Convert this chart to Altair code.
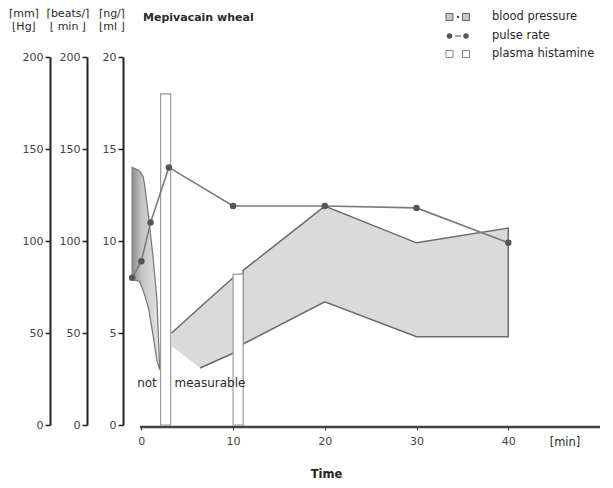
import altair as alt
import pandas as pd

# ---------------- data ----------------
# pulse rate (beats/min)
pulse_time = [-1, 0, 1, 3, 10, 20, 30, 40]
pulse_rate = [80, 89, 110, 140, 119, 119, 118, 99]

# blood pressure band (mm Hg), first part (before wheal measurement gap)
bpA_time = [-1.0, -0.2, 0.2, 0.4, 0.8, 1.3, 1.7, 2.0]
bpA_upper = [140, 138, 135, 129, 113, 90, 68, 31]
bpA_lower = [79, 78, 73, 70, 63, 48, 35, 30]

# blood pressure band, second part (between histamine samples)
bpB_time = [3.3, 6.4, 10.0]
bpB_upper = [50, 64, 80]
bpB_lower = [43, 31, 39]

# blood pressure band, third part
bpC_time = [11.1, 20, 30, 40]
bpC_upper = [84, 119, 99, 107]
bpC_lower = [44, 67, 48, 48]

# plasma histamine (ng/ml)
hist_start = [2.1, 10.0]
hist_end = [3.2, 11.1]
hist_value = [18.0, 8.2]

# axis tick labels
ticks_mmhg = [0, 50, 100, 150, 200]
ticks_beats = [0, 50, 100, 150, 200]
ticks_ng = [0, 5, 10, 15, 20]
ticks_time = [0, 10, 20, 30, 40]

# ---------------- tables ----------------
pulse_df = pd.DataFrame({"t": pulse_time, "rate": pulse_rate})
bpA_df = pd.DataFrame({"t": bpA_time, "upper": bpA_upper, "lower": bpA_lower})
bpB_df = pd.DataFrame({"t": bpB_time, "upper": bpB_upper, "lower": bpB_lower})
bpC_df = pd.DataFrame({"t": bpC_time, "upper": bpC_upper, "lower": bpC_lower})
hist_df = pd.DataFrame({"start": hist_start, "end": hist_end, "value": hist_value})
edgeB_df = pd.concat([
    pd.DataFrame({"t": bpB_time, "v": bpB_upper, "edge": "upper"}),
    pd.DataFrame({"t": bpB_time[1:], "v": bpB_lower[1:], "edge": "lower"}),
])
one = pd.DataFrame({"k": [0]})

FONT = "DejaVu Sans"
TXT = "#2a2a2a"

xscale = alt.Scale(domain=[-2, 50], nice=False, zero=False)
xaxis = alt.Axis(values=ticks_time, domain=False, ticks=True, tickSize=3,
                 tickColor="#444", tickWidth=1.2, labelFontSize=11, labelColor="#444",
                 labelFont=FONT, labelPadding=5, offset=2, grid=False,
                 title="Time", titleX=203, titlePadding=22, titleFontSize=11.5,
                 titleFont=FONT, titleFontWeight="bold", titleColor="#222")


def X(field):
    return alt.X(field, type="quantitative", scale=xscale, axis=xaxis)


def yaxis(offset, values):
    return alt.Axis(orient="left", offset=offset, values=values, domainWidth=2,
                    domainColor="#222", tickColor="#222", tickWidth=1.5, tickSize=5,
                    labelFontSize=11, labelColor="#444", labelFont=FONT,
                    labelPadding=2, grid=False, title=None)


s200 = alt.Scale(domain=[0, 200], nice=False, zero=False)
s20 = alt.Scale(domain=[0, 20], nice=False, zero=False)

grad = alt.Gradient(gradient="linear",
                    stops=[alt.GradientStop(color="#8e8e8e", offset=0),
                           alt.GradientStop(color="#c4c4c4", offset=0.35),
                           alt.GradientStop(color="#e4e4e4", offset=1)],
                    x1=0, x2=1, y1=0, y2=0)

bandA = alt.Chart(bpA_df).mark_area(color=grad, stroke="#777", strokeWidth=1.2).encode(
    x=X("t"), y=alt.Y("upper:Q", scale=s200, axis=yaxis(73, ticks_mmhg)),
    y2="lower:Q")

bandB = alt.Chart(bpB_df).mark_area(color="#dadada").encode(
    x=X("t"), y=alt.Y("upper:Q", scale=s200, axis=None), y2="lower:Q")

bandC = alt.Chart(bpC_df).mark_area(color="#dadada", stroke="#6a6a6a", strokeWidth=1.5).encode(
    x=X("t"), y=alt.Y("upper:Q", scale=s200, axis=None), y2="lower:Q")

edgesB = alt.Chart(edgeB_df).mark_line(color="#6a6a6a", strokeWidth=1.5).encode(
    x=X("t"), y=alt.Y("v:Q", scale=s200, axis=None), detail="edge:N")

bars = alt.Chart(hist_df).mark_rect(fill="white", stroke="#9a9a9a", strokeWidth=1.2).encode(
    x=X("start"), x2="end",
    y=alt.Y("value:Q", scale=s20, axis=yaxis(0, ticks_ng)), y2=alt.datum(0))

pulse_line = alt.Chart(pulse_df).mark_line(color="#7a7a7a", strokeWidth=1.6).encode(
    x=X("t"), y=alt.Y("rate:Q", scale=s200, axis=yaxis(36, ticks_beats)))

pulse_pts = alt.Chart(pulse_df).mark_point(filled=True, color="#555", size=42, opacity=1).encode(
    x=X("t"), y=alt.Y("rate:Q", scale=s200, axis=None))

axis_line = alt.Chart(one).mark_rule(color="#444", strokeWidth=2.5).encode(
    x=alt.value(17), x2=alt.value(477), y=alt.value(370))


def text(label, x, y, size=11.5, align="center", weight="normal", baseline="middle",
         lineHeight=None):
    kw = dict(fontSize=size, font=FONT, color=TXT, align=align, baseline=baseline,
              fontWeight=weight)
    if lineHeight is not None:
        kw["lineHeight"] = lineHeight
        kw["lineBreak"] = "\n"
    return alt.Chart(one).mark_text(**kw).encode(
        x=alt.value(x), y=alt.value(y), text=alt.value(label))


def square(x, y, fill, stroke):
    return alt.Chart(one).mark_point(shape="square", filled=True, size=49, fill=fill,
                                     stroke=stroke, strokeWidth=1, opacity=1).encode(
        x=alt.value(x), y=alt.value(y))


def dot(x, y, size=30):
    return alt.Chart(one).mark_point(filled=True, size=size, color="#555", opacity=1).encode(
        x=alt.value(x), y=alt.value(y))


annotations = [
    text("Mepivacain wheal", 20, -39, size=11, align="left", weight="bold"),
    text("⌈mm⌉\n⌊Hg⌋", -99, -49, size=11, baseline="top", lineHeight=13),
    text("⌈beats/⌉\n⌊  min  ⌋", -55, -49, size=11, baseline="top", lineHeight=13),
    text("⌈ng/⌉\n⌊ml ⌋", -11, -49, size=11, baseline="top", lineHeight=13),
    text("not", 24, 326, size=12),
    text("measurable", 87, 326, size=12),
    text("[min]", 442, 386, size=11.5),
]

legend = [
    square(326.5, -40, "#c8c8c8", "#666"), dot(335, -40, 6), square(343, -40, "#c8c8c8", "#666"),
    text("blood pressure", 369, -40, align="left"),
    dot(326.5, -21), dot(343, -21),
    alt.Chart(one).mark_rule(color="#666", strokeWidth=1.2).encode(
        x=alt.value(332), x2=alt.value(338), y=alt.value(-21)),
    text("pulse rate", 369, -21, align="left"),
    square(326.5, -3, "white", "#888"), square(343, -3, "white", "#888"),
    text("plasma histamine", 369, -3, align="left"),
]

chart = alt.layer(
    bandA, bandB, bandC, edgesB, bars, pulse_line, pulse_pts, axis_line,
    *annotations, *legend
).resolve_scale(y="independent").properties(
    width=477, height=368,
    padding={"left": 123, "top": 57, "right": 13, "bottom": 63},
    autosize=alt.AutoSizeParams(type="none"),
).configure(background="white").configure_view(strokeWidth=0, stroke="transparent")

chart.save("out.html", embed_options={"renderer": "svg", "actions": False})
